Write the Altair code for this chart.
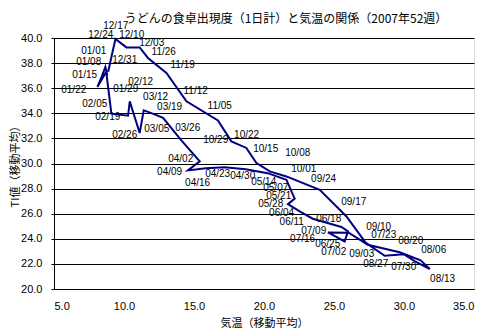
import altair as alt
import pandas as pd

weeks = ["01/01", "01/08", "01/15", "01/22", "01/29", "02/05", "02/12", "02/19", "02/26",
         "03/05", "03/12", "03/19", "03/26", "04/02", "04/09", "04/16", "04/23", "04/30",
         "05/07", "05/14", "05/21", "05/28", "06/04", "06/11", "06/18", "06/25", "07/02",
         "07/09", "07/16", "07/23", "07/30", "08/06", "08/13", "08/20", "08/27", "09/03",
         "09/10", "09/17", "09/24", "10/01", "10/08", "10/15", "10/22", "10/29", "11/05",
         "11/12", "11/19", "11/26", "12/03", "12/10", "12/17", "12/24", "12/31"]

# 気温（移動平均）
temp = [8.81, 8.67, 8.41, 8.10, 8.73, 9.10, 10.29, 10.41, 11.12,
        11.41, 12.05, 12.79, 14.05, 15.41, 14.57, 15.84, 17.19, 18.69,
        20.26, 21.60, 22.19, 21.71, 22.55, 23.48, 25.53, 26.00, 25.76,
        24.57, 26.05, 27.41, 29.69, 31.19, 31.84, 30.76, 29.98, 28.62,
        27.26, 25.89, 23.98, 21.60, 20.41, 19.46, 18.74, 17.67, 16.71,
        14.46, 13.03, 11.71, 11.12, 10.17, 9.39, 9.12, 8.87]

# TI値（移動平均）
ti = [37.00, 37.69, 36.92, 36.10, 37.31, 33.97, 33.81, 34.95, 32.43,
      34.23, 33.97, 33.63, 31.90, 30.17, 29.45, 29.63, 29.71, 29.55,
      29.23, 28.71, 27.20, 26.76, 26.18, 25.60, 24.94, 24.59, 23.79,
      24.51, 24.49, 23.53, 22.93, 22.29, 21.59, 22.22, 22.77, 22.65,
      23.69, 25.78, 27.91, 28.97, 29.37, 30.04, 31.24, 31.76, 33.43,
      34.95, 37.21, 38.41, 39.25, 39.25, 39.92, 38.59, 37.31]

# where each date label sits (data units)
label_temp = [7.84, 7.48, 7.19, 6.41, 10.12, 7.91, 11.19, 8.84, 10.05,
              12.34, 12.26, 13.26, 14.55, 14.05, 13.26, 15.26, 16.69, 18.48,
              20.84, 19.98, 21.05, 20.48, 21.26, 21.98, 24.62, 24.55, 24.98,
              23.55, 22.76, 28.55, 29.98, 32.12, 32.76, 30.48, 27.98, 26.98,
              28.19, 26.41, 24.26, 22.84, 22.41, 20.12, 18.76, 16.55, 16.84,
              15.12, 14.19, 12.84, 11.98, 10.55, 9.41, 8.34, 10.05]
label_ti = [38.99, 38.11, 37.08, 35.88, 35.96, 34.76, 36.52, 33.73, 32.29,
            32.77, 35.32, 34.53, 32.85, 30.38, 29.35, 28.47, 29.19, 29.03,
            28.07, 28.55, 27.43, 26.80, 26.08, 25.36, 25.60, 23.61, 22.97,
            24.65, 24.01, 24.33, 21.78, 23.13, 20.82, 23.85, 22.02, 22.81,
            24.96, 26.96, 28.79, 29.59, 30.86, 31.18, 32.29, 31.90, 34.61,
            35.80, 37.87, 38.91, 39.63, 40.26, 40.98, 40.26, 38.27]

x_ticks = [5.0, 10.0, 15.0, 20.0, 25.0, 30.0, 35.0]
y_ticks = [20.0, 22.0, 24.0, 26.0, 28.0, 30.0, 32.0, 34.0, 36.0, 38.0, 40.0]

df = pd.DataFrame({
    "week": weeks,
    "order": list(range(len(weeks))),
    "temp": temp,
    "ti": ti,
    "lx": label_temp,
    "ly": label_ti,
})

cjk = "Noto Sans CJK JP"
num_font = "Liberation Sans"

xscale = alt.Scale(domain=[5, 35], nice=False, zero=False)
yscale = alt.Scale(domain=[20, 40], nice=False, zero=False)

xaxis = alt.Axis(values=x_ticks, format=".1f", title="気温（移動平均）", grid=False,
                 tickSize=0, labelPadding=11, labelFont=num_font, labelFontSize=11,
                 labelColor="black", domainColor="black", titleFont=cjk,
                 titleFontSize=11, titleFontWeight="normal", titleColor="black",
                 titleX=210, titleY=34, titleBaseline="middle")
yaxis = alt.Axis(values=y_ticks, format=".1f", title="TI値（移動平均）", grid=True,
                 gridColor="black", gridWidth=1, gridOpacity=1,
                 tickSize=3, tickColor="black", labelPadding=9, labelFont=num_font,
                 labelFontSize=11, labelColor="black", domainColor="black",
                 titleFont=cjk, titleFontSize=11, titleFontWeight="normal",
                 titleColor="black", titleX=-39, titleY=125.5, titleBaseline="middle")

line = alt.Chart(df).mark_line(color="#000080", strokeWidth=2).encode(
    x=alt.X("temp:Q", scale=xscale, axis=xaxis),
    y=alt.Y("ti:Q", scale=yscale, axis=yaxis),
    order="order:Q",
)

labels = alt.Chart(df).mark_text(font=num_font, fontSize=10, color="black").encode(
    x=alt.X("lx:Q", scale=xscale, axis=xaxis),
    y=alt.Y("ly:Q", scale=yscale, axis=yaxis),
    text="week:N",
)

chart = alt.layer(line, labels).properties(
    width=420,
    height=251,
    title=alt.TitleParams(
        text="うどんの食卓出現度（1日計）と気温の関係（2007年52週）",
        font=cjk, fontSize=12, fontWeight="normal", color="black",
        anchor="middle", frame="group", dx=22, offset=0, dy=5,
    ),
    autosize=alt.AutoSizeParams(type="none"),
    padding={"left": 54, "top": 38, "right": 26, "bottom": 47},
).configure_view(stroke="black", strokeWidth=1).configure(background="white")

chart.save("out.html", embed_options={"renderer": "svg", "actions": False})
